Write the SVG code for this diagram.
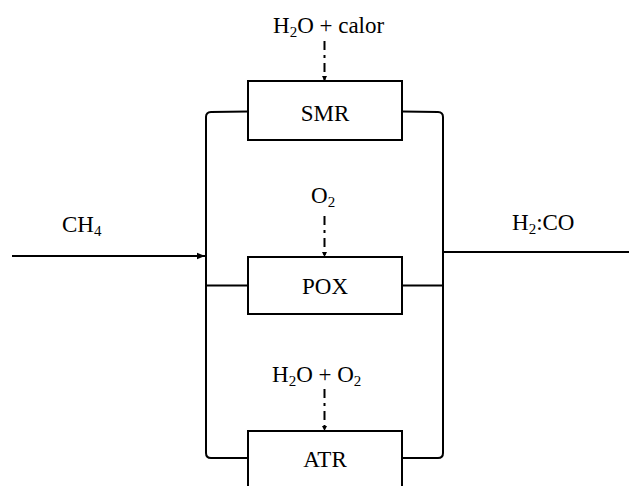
<svg xmlns="http://www.w3.org/2000/svg" width="629" height="486" viewBox="0 0 629 486">
<style>
.box{fill:#fff;stroke:#000;stroke-width:2}
.ln{fill:none;stroke:#000;stroke-width:2}
.dash{fill:none;stroke:#000;stroke-width:2;stroke-dasharray:9 5 3 5}
text{font-family:"Liberation Serif","Times New Roman",serif;font-size:23px;fill:#000}
.lab{text-anchor:middle}
.sub{font-size:15px}
</style>
<defs>
<marker id="ah" viewBox="0 0 10 10" refX="10" refY="5" markerWidth="5" markerHeight="5" orient="auto" markerUnits="userSpaceOnUse">
<path d="M0,0L10,5L0,10z" fill="#000"/>
</marker>
<marker id="ah2" viewBox="0 0 10 10" refX="10" refY="5" markerWidth="8" markerHeight="8" orient="auto" markerUnits="userSpaceOnUse">
<path d="M0,1L10,5L0,9z" fill="#000"/>
</marker>
</defs>
<g id="connectors">
<path class="ln" d="M248,111.5 L211,112 Q206,112.3 206,117 L206,453 Q206,458 211,458 L248,458"/>
<path class="ln" d="M402,111.5 L438,112 Q443,112.3 443,117 L443,453 Q443,458 438,458 L402,458"/>
<path class="ln" d="M206,285.5 L248,285.5 M402,285.5 L443,285.5"/>
<path class="ln" d="M12,256 L205,256" marker-end="url(#ah2)"/>
<path class="ln" d="M443,252 L629,252"/>
<path class="dash" d="M324.5,41 L324.5,81" marker-end="url(#ah)"/>
<path class="dash" d="M324.5,216 L324.5,257" marker-end="url(#ah)"/>
<path class="dash" d="M324.5,389 L324.5,431" marker-end="url(#ah)"/>
</g>
<g id="SMR">
<rect class="box" x="248" y="81" width="154" height="59"/>
<text class="lab" x="325" y="120.5">SMR</text>
</g>
<g id="POX">
<rect class="box" x="248" y="257" width="154" height="57"/>
<text class="lab" x="325" y="294">POX</text>
</g>
<g id="ATR">
<rect class="box" x="248" y="431" width="154" height="70"/>
<text class="lab" x="325" y="466.5">ATR</text>
</g>
<g id="label-h2o-calor">
<text x="273" y="33">H<tspan class="sub" dy="4">2</tspan><tspan dy="-4">O + calor</tspan></text>
</g>
<g id="label-o2">
<text x="311" y="203">O<tspan class="sub" dy="4">2</tspan></text>
</g>
<g id="label-h2o-o2">
<text x="272" y="381.5">H<tspan class="sub" dy="4">2</tspan><tspan dy="-4">O + O</tspan><tspan class="sub" dy="4">2</tspan></text>
</g>
<g id="label-ch4">
<text x="62" y="231.5">CH<tspan class="sub" dy="4">4</tspan></text>
</g>
<g id="label-h2co">
<text x="512" y="230">H<tspan class="sub" dy="4">2</tspan><tspan dy="-4">:CO</tspan></text>
</g>
</svg>
